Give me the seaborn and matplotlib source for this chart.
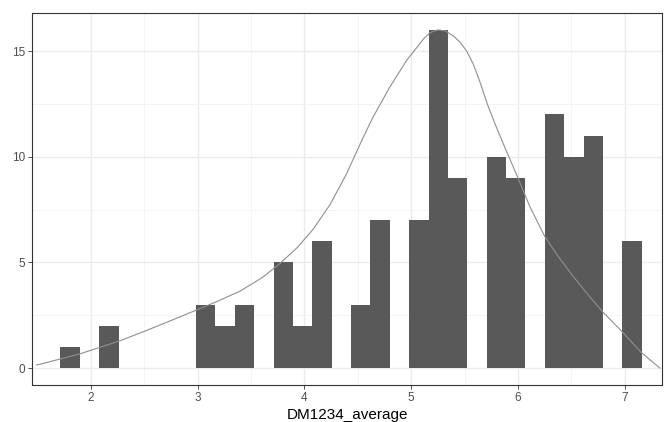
import numpy as np
import pandas as pd
import matplotlib
matplotlib.use("Agg")
import matplotlib.pyplot as plt
import seaborn as sns

# ---- data ----
bin_start = 1.714
bin_width = 0.1815
counts = [1, 0, 2, 0, 0, 0, 0, 3, 2, 3, 0, 5, 2, 6, 0, 3, 7, 0, 7, 16,
          9, 0, 10, 9, 0, 12, 10, 11, 0, 6]

curve_x = [1.49, 1.90, 2.27, 2.51, 2.74, 2.99, 3.18, 3.40, 3.61, 3.77, 3.93,
           4.08, 4.24, 4.39, 4.535, 4.64, 4.80, 4.96, 5.05, 5.12, 5.18, 5.25,
           5.32, 5.40, 5.46, 5.52, 5.58, 5.64, 5.72, 5.79, 5.86, 6.00, 6.11,
           6.25, 6.375, 6.516, 6.66, 6.80, 6.985, 7.155, 7.33]
curve_y = [0.14, 0.68, 1.29, 1.76, 2.23, 2.75, 3.15, 3.65, 4.30, 4.95, 5.69,
           6.56, 7.74, 9.15, 10.75, 11.85, 13.30, 14.58, 15.15, 15.60, 15.88, 16.00,
           15.95, 15.70, 15.40, 15.00, 14.40, 13.60, 12.40, 11.50, 10.65, 9.00, 7.66,
           6.24, 5.30, 4.35, 3.45, 2.63, 1.68, 0.74, 0.00]

x_ticks = [2, 3, 4, 5, 6, 7]
y_ticks = [0, 5, 10, 15]
x_label = "DM1234_average"

# ---- build ----
n_bins = len(counts)
centers = [bin_start + bin_width * (i + 0.5) for i in range(n_bins)]
df = pd.DataFrame({"DM1234_average": centers, "n": counts})
curve = pd.DataFrame({"x": curve_x, "y": curve_y})

sns.set_theme(style="white")
plt.rcParams["font.family"] = ["Liberation Sans", "DejaVu Sans"]

fig = plt.figure(figsize=(6.64, 4.22), dpi=100)
ax = fig.add_axes([32/664, 1 - 385/422, (662 - 32)/664, (385 - 13)/422])

sns.histplot(data=df, x="DM1234_average", weights="n",
             binwidth=bin_width,
             binrange=(bin_start, bin_start + bin_width * n_bins),
             color="#595959", alpha=1, edgecolor="none", linewidth=0, ax=ax)
sns.lineplot(data=curve, x="x", y="y", color="#8f8f8f", linewidth=0.8, ax=ax)

ax.set_xlim(1.447, 7.35)
ax.set_ylim(-0.8, 16.8)
ax.set_xticks(x_ticks)
ax.set_yticks(y_ticks)
ax.set_xticks([2.5, 3.5, 4.5, 5.5, 6.5], minor=True)
ax.set_yticks([2.5, 7.5, 12.5], minor=True)
ax.grid(True, which="major", color="#EBEBEB", linewidth=1.0)
ax.grid(True, which="minor", color="#F2F2F2", linewidth=0.6)
ax.set_axisbelow(True)
ax.tick_params(axis="both", which="major", length=3, width=0.6, color="#333333",
               labelsize=8.5, labelcolor="#4D4D4D", pad=2, bottom=True, left=True)
ax.tick_params(axis="both", which="minor", length=0)
for s in ax.spines.values():
    s.set_color("#333333")
    s.set_linewidth(0.8)
ax.set_xlabel(x_label, fontsize=11, color="black", labelpad=3)
ax.set_ylabel("")

fig.savefig("out.png", dpi=100)
